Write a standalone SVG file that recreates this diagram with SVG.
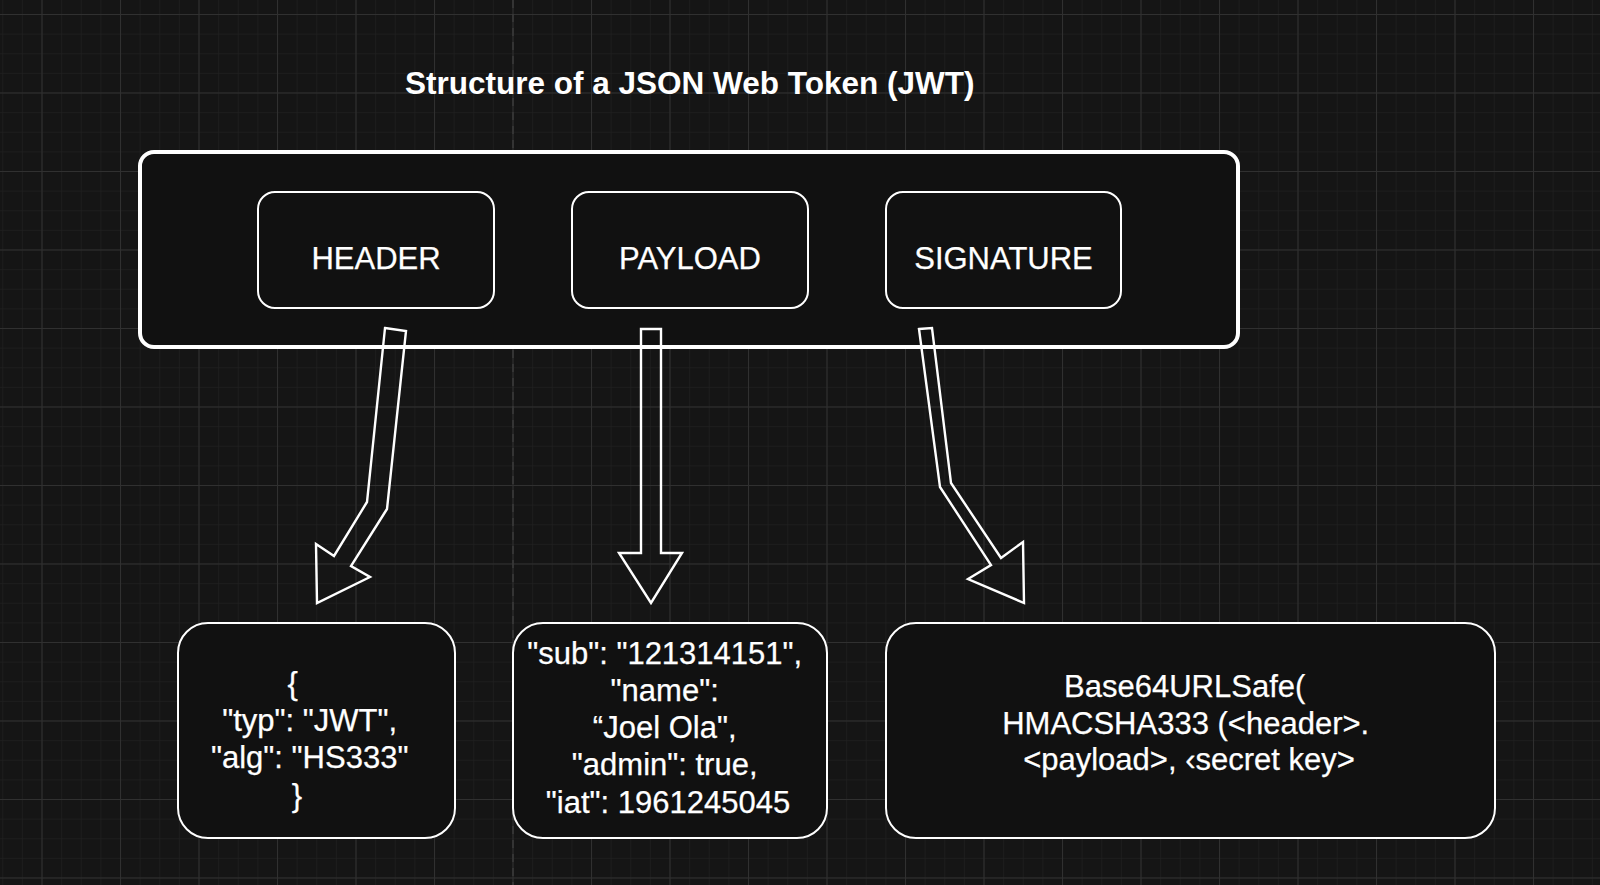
<svg xmlns="http://www.w3.org/2000/svg" width="1600" height="885" viewBox="0 0 1600 885">
  <defs>
    <pattern id="minor" x="41.5" y="14" width="19.625" height="19.625" patternUnits="userSpaceOnUse">
      <path d="M0 0V19.625M0 0H19.625" fill="none" stroke="#1f1f1f" stroke-width="1.5"/>
    </pattern>
    <pattern id="major" x="41.5" y="14" width="78.5" height="78.5" patternUnits="userSpaceOnUse">
      <path d="M0 0V78.5M0 0H78.5" fill="none" stroke="#303030" stroke-width="2"/>
    </pattern>
    <style>
      .box { fill: #111111; stroke: #ffffff; }
      .lbl { font-family: "Liberation Sans", Arial, Helvetica, sans-serif; font-size: 31px; fill: #ffffff; text-anchor: middle; stroke: #ffffff; stroke-width: 0.25; }
      .title { font-family: "Liberation Sans", Arial, Helvetica, sans-serif; font-size: 31.5px; font-weight: bold; fill: #ffffff; }
      .arrow { fill: none; stroke: #ffffff; stroke-width: 2.4; stroke-linejoin: miter; }
    </style>
  </defs>

  <rect width="1600" height="885" fill="#151515"/>
  <rect width="1600" height="885" fill="url(#minor)"/>
  <rect width="1600" height="885" fill="url(#major)"/>
  <line x1="513" y1="0" x2="513" y2="885" stroke="#3a3a3a" stroke-width="1.5" stroke-dasharray="8 6"/>

  <text id="title" class="title" x="405" y="94">Structure of a JSON Web Token (JWT)</text>

  <g id="jwt">
    <rect class="box" x="140" y="152" width="1098" height="195" rx="14" stroke-width="4"/>
  </g>

  <g id="header">
    <rect class="box" x="258" y="192" width="236" height="116" rx="17" stroke-width="2"/>
    <text class="lbl" x="376" y="269">HEADER</text>
  </g>
  <g id="payload">
    <rect class="box" x="572" y="192" width="236" height="116" rx="17" stroke-width="2"/>
    <text class="lbl" x="690" y="269">PAYLOAD</text>
  </g>
  <g id="signature">
    <rect class="box" x="886" y="192" width="235" height="116" rx="17" stroke-width="2"/>
    <text class="lbl" x="1003.5" y="269">SIGNATURE</text>
  </g>

  <g id="connectors">
    <polygon class="arrow" points="385,328 406,331 387,509 351,566 370,577 317,603 316,544 334,556 367,502"/>
    <polygon class="arrow" points="641,329 661,329 661,553 682,553 651,603 619,553 641,553"/>
    <polygon class="arrow" points="919,329 932,328 951,483 1001,558 1023,542 1024,603 968,579 991,565 940,487"/>
  </g>

  <g id="header-json">
    <rect class="box" x="178" y="623" width="277" height="215" rx="30" stroke-width="2"/>
    <text class="lbl" x="315">
      <tspan x="297" y="694">{</tspan>
      <tspan x="314" y="731">"typ": "JWT",</tspan>
      <tspan x="314" y="768">"alg": "HS333"</tspan>
      <tspan x="297" y="806">}</tspan>
    </text>
  </g>

  <g id="payload-json">
    <rect class="box" x="513" y="623" width="314" height="215" rx="30" stroke-width="2"/>
    <text class="lbl" x="669">
      <tspan x="669" y="664">"sub": "121314151",</tspan>
      <tspan x="669" y="701">"name":</tspan>
      <tspan x="669" y="738">“Joel Ola",</tspan>
      <tspan x="669" y="775">"admin": true,</tspan>
      <tspan x="668" y="813">"iat": 1961245045</tspan>
    </text>
  </g>

  <g id="signature-formula">
    <rect class="box" x="886" y="623" width="609" height="215" rx="30" stroke-width="2"/>
    <text class="lbl" x="1189">
      <tspan x="1189" y="697">Base64URLSafe(</tspan>
      <tspan x="1190" y="734">HMACSHA333 (&lt;header&gt;.</tspan>
      <tspan x="1189" y="770">&lt;payload&gt;, ‹secret key&gt;</tspan>
    </text>
  </g>
</svg>
